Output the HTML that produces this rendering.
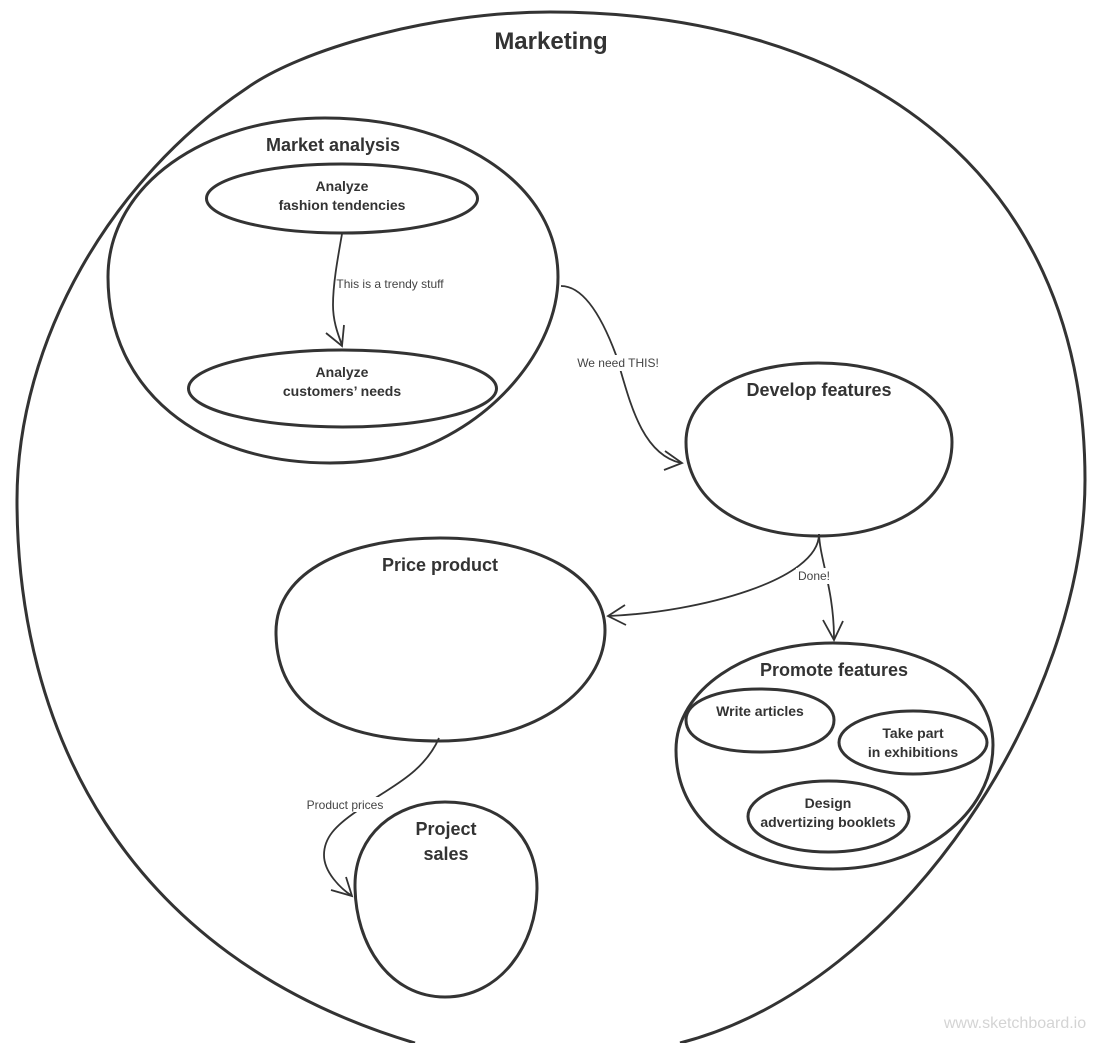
<!DOCTYPE html>
<html>
<head>
<meta charset="utf-8">
<style>
html,body{margin:0;padding:0;background:#fff;}
svg{display:block;}
text{font-family:"Liberation Sans",sans-serif;fill:#333;text-anchor:middle;}
.b{font-weight:bold;}
.l{fill:#444;}
.s{fill:none;stroke:#333;stroke-width:3;}
.c{fill:none;stroke:#333;stroke-width:1.8;}
</style>
</head>
<body>
<svg width="1104" height="1043" viewBox="0 0 1104 1043" xmlns="http://www.w3.org/2000/svg">
<!-- Outer Marketing -->
<path class="s" d="M415 1043 C120 955 17 725 17 500 C17 340 112 178 247 88 C300 50 430 12 550 12 C845 12 1085 160 1085 480 C1085 700 905 985 680 1043"/>
<!-- Market analysis -->
<path class="s" d="M330 463 C200 463 108 390 108 277 C108 185 205 118 325 118 C450 118 558 180 558 277 C558 350 490 430 400 455 C375 461 350 463 330 463 Z"/>
<ellipse class="s" cx="342" cy="198.500" rx="135.500" ry="34.500"/>
<ellipse class="s" cx="342.500" cy="388.500" rx="154" ry="38.500"/>
<!-- Develop features -->
<path class="s" d="M818 536 C740 536 686 500 686 442 C686 395 740 363 818 363 C895 363 952 395 952 442 C952 500 895 536 818 536 Z"/>
<!-- Price product -->
<path class="s" d="M440 741 C335 741 276 705 276 632 C276 570 350 538 440 538 C535 538 605 575 605 630 C605 690 535 741 440 741 Z"/>
<!-- Promote features -->
<path class="s" d="M833 869 C745 869 676 825 676 750 C676 690 745 643 833 643 C920 643 993 680 993 745 C993 815 920 869 833 869 Z"/>
<path class="s" d="M760 752 C715 752 686 740 686 720 C686 702 715 689 760 689 C805 689 834 702 834 720 C834 740 805 752 760 752 Z"/>
<ellipse class="s" cx="913" cy="742.500" rx="74" ry="31.500"/>
<ellipse class="s" cx="828.500" cy="816.500" rx="80.500" ry="35.500"/>
<!-- Project sales -->
<path class="s" d="M445 997 C390 997 355 945 355 885 C355 835 395 802 445 802 C500 802 537 835 537 888 C537 945 500 997 445 997 Z"/>
<!-- Connectors -->
<path class="c" d="M342 234 C337 262 333 285 333 305 C333 320 337 332 342 345"/>
<path class="c" d="M326 333 L342 346 L344 325"/>
<path class="c" d="M561 286 C585 286 603 320 616 355 L621 372 C632 410 645 455 681 463"/>
<path class="c" d="M664 470 L682 463 L665 451"/>
<path class="c" d="M819 534 C819 580 700 612 609 616"/>
<path class="c" d="M625 605 L608 616 L626 625"/>
<path class="c" d="M819 534 C820 560 834 590 834 639"/>
<path class="c" d="M823 620 L834 640 L843 621"/>
<path class="c" d="M439 738 C425 770 395 785 377 797 L357 811 C335 826 324 838 324 855 C324 872 340 888 352 896"/>
<path class="c" d="M331 890 L352 896 L346 877"/>
<!-- Connector label backgrounds -->
<rect x="336" y="277" width="109" height="15" fill="#fff"/>
<rect x="575" y="355" width="86" height="16" fill="#fff"/>
<rect x="796" y="568" width="36" height="16" fill="#fff"/>
<rect x="305" y="797" width="80" height="15" fill="#fff"/>
<!-- Labels -->
<text class="b" x="551" y="49" font-size="24">Marketing</text>
<text class="b" x="333" y="151" font-size="18">Market analysis</text>
<text class="b" x="342" y="191" font-size="14">Analyze</text>
<text class="b" x="342" y="210" font-size="14">fashion tendencies</text>
<text class="b" x="342" y="377" font-size="14">Analyze</text>
<text class="b" x="342" y="396" font-size="14">customers’ needs</text>
<text class="b" x="819" y="396" font-size="18">Develop features</text>
<text class="b" x="440" y="571" font-size="18">Price product</text>
<text class="b" x="834" y="676" font-size="18">Promote features</text>
<text class="b" x="760" y="716" font-size="14">Write articles</text>
<text class="b" x="913" y="738" font-size="14">Take part</text>
<text class="b" x="913" y="757" font-size="14">in exhibitions</text>
<text class="b" x="828" y="808" font-size="14">Design</text>
<text class="b" x="828" y="827" font-size="14">advertizing booklets</text>
<text class="b" x="446" y="835" font-size="18">Project</text>
<text class="b" x="446" y="860" font-size="18">sales</text>
<text class="l" x="390" y="288" font-size="12">This is a trendy stuff</text>
<text class="l" x="618" y="367" font-size="12">We need THIS!</text>
<text class="l" x="814" y="580" font-size="12">Done!</text>
<text class="l" x="345" y="809" font-size="12">Product prices</text>
<text x="1015" y="1028" font-size="16" style="fill:#d4d4d4">www.sketchboard.io</text>
</svg>
</body>
</html>
